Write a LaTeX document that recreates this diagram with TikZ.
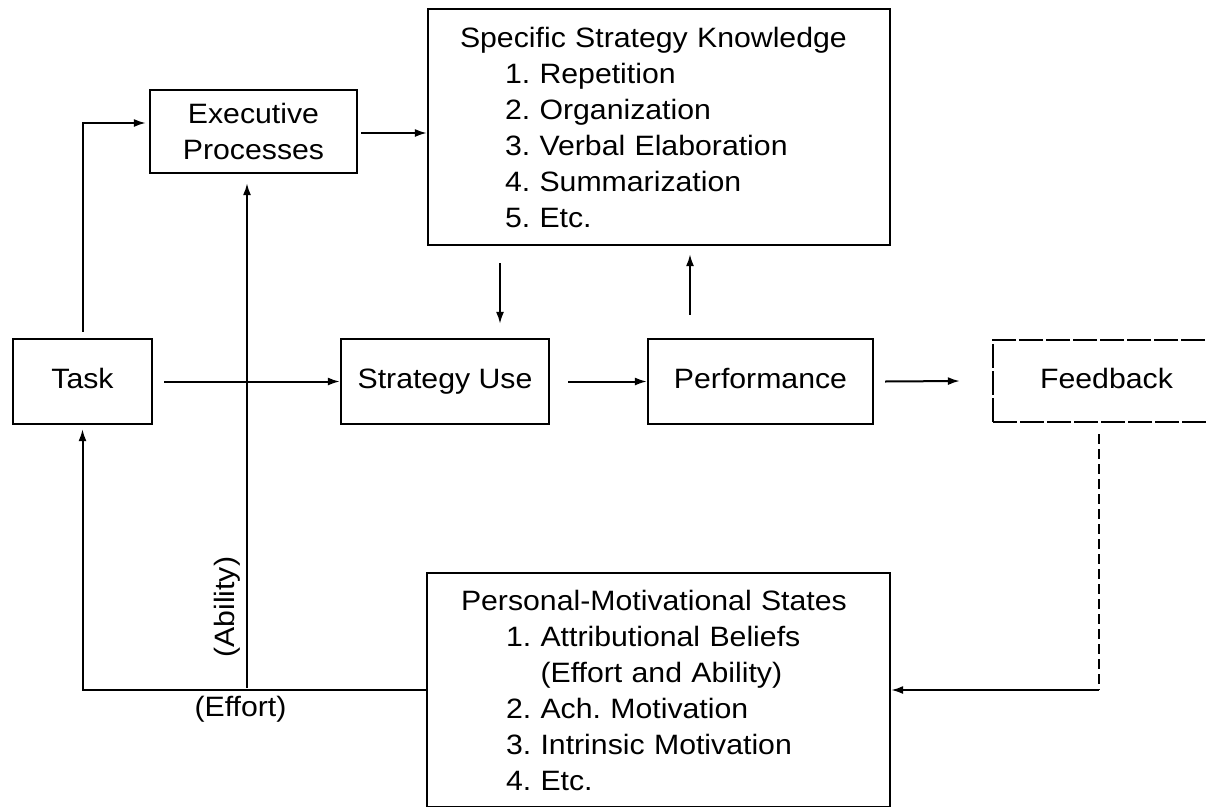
\documentclass[tikz,border=0pt]{standalone}
\usepackage{fontspec}
\setmainfont{Liberation Sans}[FakeStretch=1.08]
\usetikzlibrary{arrows.meta,positioning,calc}

\begin{document}
\begin{tikzpicture}[x=1pt, y=-1pt,
        font=\fontsize{28}{36}\selectfont,
        box/.style={draw, line width=2.2pt, minimum height=85pt, inner sep=0pt,
            text height=20pt, text depth=6pt},
        listbox/.style={draw, line width=2.2pt, align=left, inner ysep=0pt},
        arr/.style={line width=2pt, -{Latex[length=12pt,width=8pt]}}]
    \useasboundingbox (0,0) rectangle (1207,806);
    \clip (0,0) rectangle (1207,806);
    % middle row
    \node [box, minimum width=139pt] (task) at (82.5,381.5) {Task};
    \node [box, minimum width=208pt] (stuse) at (445,381.5) {Strategy Use};
    \node [box, minimum width=225pt] (perf) at (760.5,381.5) {Performance};
    \node [box, minimum width=227pt, minimum height=82pt,
        dash pattern=on 24pt off 3pt] (feed) at (1106.5,381) {Feedback};
    % upper boxes
    \node [draw, line width=2.2pt, minimum width=207pt, minimum height=83pt, align=center]
        (exec) at (253.5,131.5) {Executive\\Processes};
    \node [listbox, text width=398pt, inner xsep=32pt, minimum height=236pt]
        (ssk) at (659,127) {Specific Strategy Knowledge\\
        \hspace*{45pt}1.~Repetition\\
        \hspace*{45pt}2.~Organization\\
        \hspace*{45pt}3.~Verbal Elaboration\\
        \hspace*{45pt}4.~Summarization\\
        \hspace*{45pt}5.~Etc.};
    % lower box
    \node [listbox, text width=395pt, inner xsep=34pt, minimum height=234pt]
        (pms) at (658.5,690) {Personal-Motivational States\\
        \hspace*{45pt}1.~Attributional Beliefs\\
        \hspace*{45pt}\phantom{1.}~(Effort and Ability)\\
        \hspace*{45pt}2.~Ach.\ Motivation\\
        \hspace*{45pt}3.~Intrinsic Motivation\\
        \hspace*{45pt}4.~Etc.};
    % arrows
    \draw [arr] ($(task.north)+(0,-6)$) |- ($(exec.west)+(-3,-8.5)$);
    \draw [arr] ($(exec.east)+(3,1.5)$) -- ($(exec.east -| ssk.west)+(0,1.5)$);
    \draw [arr] ($(stuse.north |- ssk.south)+(55,17)$) -- ($(stuse.north)+(55,-14)$);
    \draw [arr] ($(perf.north)+(-70.5,-23)$) -- ($(perf.north |- ssk.south)+(-70.5,8)$);
    \draw [arr] ($(task.east)+(11,0)$) -- (stuse.west);
    \draw [arr] ($(stuse.east)+(18,0)$) -- (perf.west);
    \draw [arr] ($(perf.east)+(11,0)$) -- ($(feed.west)+(-32,0)$);
    \draw [arr] (pms.west) -| node [pos=0.27, below=2pt] {(Effort)}
        ($(task.south)+(0,4)$);
    \draw [arr] ($(exec.south |- pms.west)+(-6.5,-2)$)
        -- node [pos=0.16, sloped, above=2pt] {(Ability)} ($(exec.south)+(-6.5,9)$);
    \coordinate (turn) at ($(feed.south |- pms.east)+(-7.5,0)$);
    \draw [line width=2pt, dash pattern=on 10pt off 5pt] ($(feed.south)+(-7.5,11)$) -- (turn);
    \draw [arr] (turn) -- (pms.east);
\end{tikzpicture}
\end{document}
